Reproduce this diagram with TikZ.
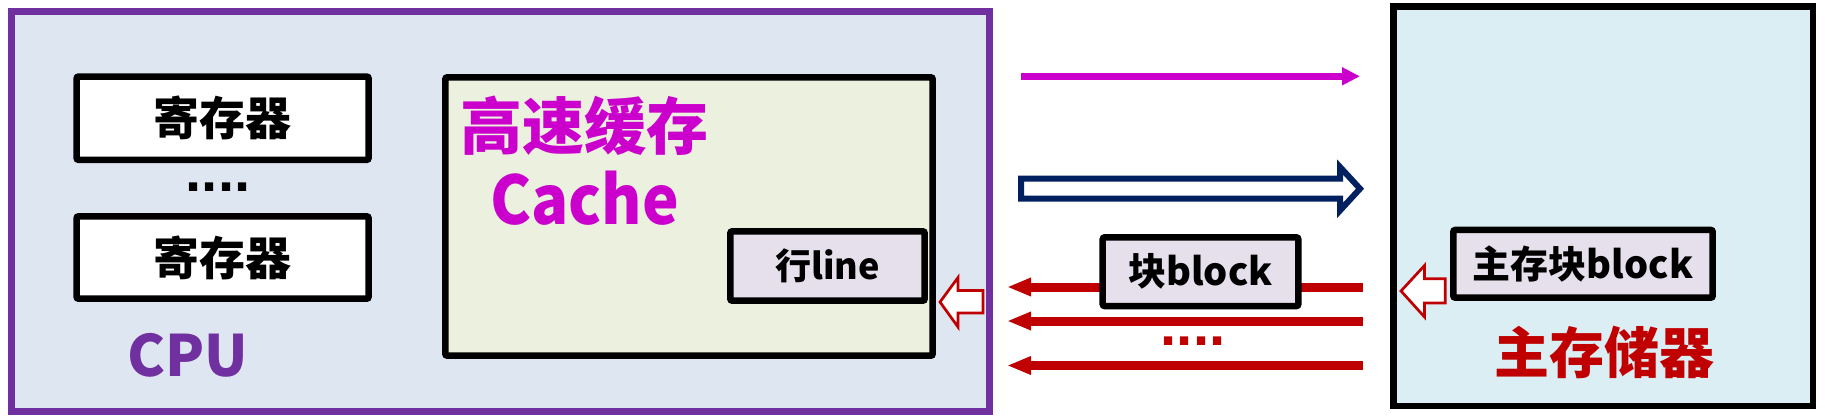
\documentclass[tikz,border=0pt]{standalone}
\usepackage{fontspec}
\setmainfont{Noto Sans CJK SC}
\newfontfamily\dotfont{Liberation Sans}
\usetikzlibrary{arrows.meta}
\definecolor{cpufill}{HTML}{DEE6F2}
\definecolor{cpuline}{HTML}{7030A0}
\definecolor{memfill}{HTML}{DBEEF4}
\definecolor{cachefill}{HTML}{EBF1DE}
\definecolor{linefill}{HTML}{E6E0EC}
\definecolor{magentac}{HTML}{CC00CC}
\definecolor{navyc}{HTML}{002060}
\definecolor{redc}{HTML}{C00000}
\tikzset{
  fs/.style={font=\fontsize{#1}{#1}\selectfont\bfseries},
  dotstyle/.style={inner sep=0pt, font=\dotfont\fontsize{58}{58}\selectfont\bfseries},
  blackbox/.style={draw=black, line width=6.5pt, rounded corners=2pt, inner sep=0pt},
  lbl/.style={inner sep=0pt},
  redarrow/.style={draw=redc, line width=9pt, -{Triangle[length=24pt,width=17pt]}},
  hollowred/.style={draw=redc, line width=2.7pt, fill=white, line join=miter},
}
\begin{document}
\begin{tikzpicture}[x=1pt,y=-1pt]
\useasboundingbox (0,0) rectangle (1825,418);
% CPU
\node[draw=cpuline, fill=cpufill, line width=7pt, minimum width=978pt, minimum height=400pt, inner sep=0pt] (cpu) at (500.5,211.5) {};
\node[blackbox, fill=white, minimum width=292pt, minimum height=83.3pt, fs=46] (reg1) at (222.6,118.2) {寄存器};
\node[dotstyle] (dots1) at (218,187) {....};
\node[blackbox, fill=white, minimum width=292pt, minimum height=82.4pt, fs=46] (reg2) at (222.6,257.5) {寄存器};
\node[lbl, fs=57, text=cpuline] (cputxt) at (188,355) {CPU};
% Cache
\node[blackbox, fill=cachefill, minimum width=487.4pt, minimum height=278.4pt] (cache) at (689,216.5) {};
\node[lbl, fs=62, text=magentac] (cachecn) at (584.5,125.5) {高速缓存};
\node[lbl, fs=67, text=magentac] (cacheen) at (584.5,198.5) {\scalebox{0.92}[1]{Cache}};
\node[blackbox, fill=linefill, minimum width=194.4pt, minimum height=69.4pt, fs=36] (line) at (827.5,266) {行line};
% hollow red arrow into cache
\draw[hollowred] (940,302) -- (958,277.5) -- (958,290.5) -- (983,290.5) -- (983,313) -- (958,313) -- (958,327) -- cycle;
% Main memory
\node[draw=black, fill=memfill, line width=6.5pt, minimum width=419.5pt, minimum height=399.5pt, inner sep=0pt] (mem) at (1603,206) {};
\node[blackbox, fill=linefill, minimum width=259.4pt, minimum height=67.7pt, fs=38] (mblock) at (1583,263.8) {主存块block};
\node[lbl, fs=55, text=redc] (memtxt) at (1604,352) {主存储器};
\draw[hollowred] (1401,291) -- (1424.5,265.5) -- (1424.5,278.7) -- (1445.3,278.7) -- (1445.3,303) -- (1424.5,303) -- (1424.5,317) -- cycle;
% arrows between
\coordinate (m1) at (1021,76.3);
\coordinate (m2) at (1360,76.3);
\draw[draw=magentac, line width=7pt, -{Triangle[length=18pt,width=17pt]}] (m1) -- (m2);
\draw[draw=navyc, line width=6pt, fill=white, line join=miter] (1021,178.7) -- (1340,178.7) -- (1340,167) -- (1360,188.7) -- (1340,210.5) -- (1340,198.7) -- (1021,198.7) -- cycle;
\coordinate (r1s) at (1363,287);
\coordinate (r1e) at (1007,287);
\coordinate (r2s) at (1363,321);
\coordinate (r2e) at (1007,321);
\coordinate (r3s) at (1363,365.5);
\coordinate (r3e) at (1007,365.5);
\draw[redarrow] (r1s) -- (r1e);
\draw[redarrow] (r2s) -- (r2e);
\draw[redarrow] (r3s) -- (r3e);
\node[dotstyle, text=redc] (dots2) at (1193,341.5) {....};
\node[blackbox, fill=linefill, minimum width=195.6pt, minimum height=68.7pt, fs=38] (block) at (1200.5,271.7) {块block};
\end{tikzpicture}
\end{document}
